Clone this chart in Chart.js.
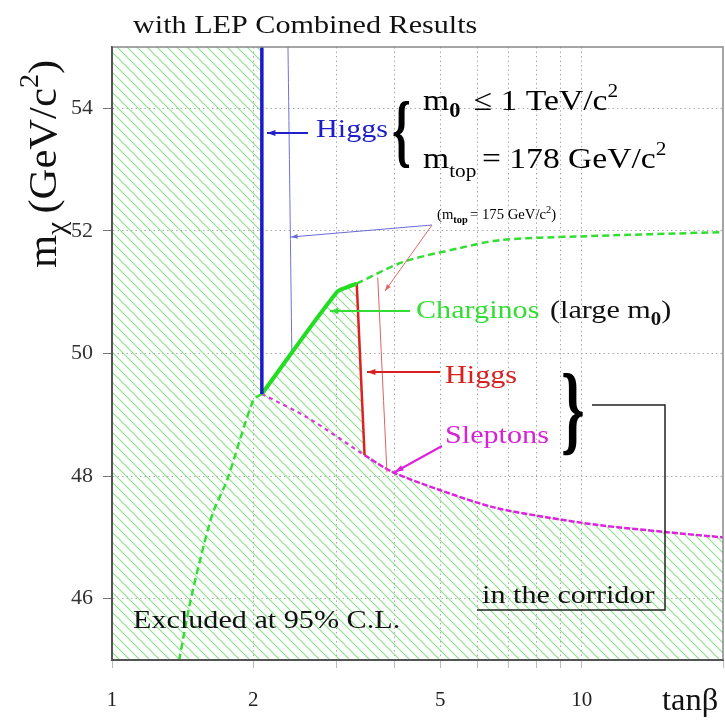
<!DOCTYPE html>
<html>
<head>
<meta charset="utf-8">
<script src="https://cdn.jsdelivr.net/npm/chart.js@4/dist/chart.umd.min.js"></script>
<style>
  html, body { margin: 0; padding: 0; background: #fff; }
  #chart { display: block; }
</style>
</head>
<body>
<canvas id="chart" width="725" height="720"></canvas>
<script>
// tick values
const tanbTicks = [1, 2, 3, 4, 5, 6, 7, 8, 9, 10, 20];
const tanbLabels = { 1: '1', 2: '2', 5: '5', 10: '10' };
const massTicks = [46, 48, 50, 52, 54];

// Higgs limits (m_top = 178 and 175)
const higgs178X = [2.085, 2.085];
const higgs178Y = [55.0, 49.34];
const higgs175X = [2.37, 2.415];
const higgs175Y = [55.0, 50.02];

// chargino limit, solid part and dashed continuations
const charginoX = [2.085, 3.01, 3.16, 3.32];
const charginoY = [49.34, 51.0, 51.08, 51.14];
const charginoHighX = [3.32, 4.16, 5.5, 6.7, 9.9, 20];
const charginoHighY = [51.14, 51.49, 51.72, 51.85, 51.91, 51.98];
const charginoLowX = [2.085, 2.0, 1.757, 1.64, 1.54, 1.466, 1.39];
const charginoLowY = [49.34, 49.24, 47.93, 47.40, 46.63, 45.93, 45.0];

// red Higgs limit in the corridor
const higgsRed178X = [3.32, 3.45];
const higgsRed178Y = [51.14, 48.34];
const higgsRed175X = [3.68, 3.85];
const higgsRed175Y = [51.24, 48.06];

// slepton limit
const sleptonLowX = [2.085, 2.60, 3.45];
const sleptonLowY = [49.34, 48.96, 48.34];
const sleptonX = [3.45, 3.95, 5.0, 6.5, 8.4, 10.9, 15, 20];
const sleptonY = [48.34, 48.07, 47.77, 47.49, 47.33, 47.2, 47.09, 47.0];

const pts = (xs, ys) => xs.map((x, i) => ({ x: x, y: ys[i] }));

// excluded region outline
const excluded = [{ x: 1, y: 55 }, { x: higgs178X[0], y: 55 }]
  .concat(pts(charginoX, charginoY))
  .concat(pts(higgsRed178X, higgsRed178Y).slice(1))
  .concat(pts(sleptonX, sleptonY).slice(1));

// diagonal hatch pattern
function hatch() {
  const s = 10;
  const c = document.createElement('canvas');
  c.width = s; c.height = s;
  const g = c.getContext('2d');
  g.strokeStyle = '#8ae28a';
  g.lineWidth = 1.1;
  g.beginPath();
  g.moveTo(0, 0); g.lineTo(s, s);
  g.moveTo(-2, s - 2); g.lineTo(2, s + 2);
  g.moveTo(s - 2, -2); g.lineTo(s + 2, 2);
  g.stroke();
  return g.createPattern(c, 'repeat');
}

const SERIF = '"Liberation Serif", "DejaVu Serif", serif';
const STRETCH = 1.16;

function rich(ctx, x, y, parts, color, sx) {
  ctx.save();
  ctx.translate(x, y);
  ctx.scale(sx || STRETCH, 1);
  ctx.fillStyle = color;
  ctx.textBaseline = 'alphabetic';
  ctx.textAlign = 'left';
  let cx = 0;
  parts.forEach(p => {
    ctx.font = (p.bold ? 'bold ' : '') + p.size + 'px ' + SERIF;
    ctx.fillText(p.t, cx, p.dy || 0);
    cx += ctx.measureText(p.t).width + (p.gap || 0);
  });
  ctx.restore();
}

function arrow(ctx, x1, y1, x2, y2, color, w, head) {
  ctx.strokeStyle = color;
  ctx.fillStyle = color;
  ctx.lineWidth = w;
  ctx.setLineDash([]);
  ctx.beginPath();
  ctx.moveTo(x1, y1);
  ctx.lineTo(x2, y2);
  ctx.stroke();
  const a = Math.atan2(y2 - y1, x2 - x1);
  const h = head || 9;
  ctx.beginPath();
  ctx.moveTo(x2, y2);
  ctx.lineTo(x2 - h * Math.cos(a - 0.35), y2 - h * Math.sin(a - 0.35));
  ctx.lineTo(x2 - h * Math.cos(a + 0.35), y2 - h * Math.sin(a + 0.35));
  ctx.closePath();
  ctx.fill();
}

const decor = {
  id: 'decor',
  afterDraw(chart) {
    const ctx = chart.ctx;
    const a = chart.chartArea;
    ctx.save();
    ctx.setLineDash([]);
    // frame
    ctx.strokeStyle = '#888';
    ctx.lineWidth = 1.5;
    ctx.beginPath();
    ctx.moveTo(a.left, a.top);
    ctx.lineTo(a.right, a.top);
    ctx.lineTo(a.right, a.bottom);
    ctx.stroke();
    ctx.strokeStyle = '#555';
    ctx.lineWidth = 2;
    ctx.beginPath();
    ctx.moveTo(a.left, a.top);
    ctx.lineTo(a.left, a.bottom);
    ctx.lineTo(a.right, a.bottom);
    ctx.stroke();

    // title
    rich(ctx, 133, 33, [{ t: 'with LEP Combined Results', size: 26 }], '#111');

    // y axis title
    ctx.save();
    ctx.translate(56, 268);
    ctx.rotate(-Math.PI / 2);
    rich(ctx, 0, 0, [
      { t: 'm', size: 41 },
      { t: 'χ', size: 28, dy: 9, gap: 8 },
      { t: '(GeV/c', size: 41 },
      { t: '2', size: 27, dy: -18 },
      { t: ')', size: 41 }
    ], '#111', 1.04);
    ctx.restore();

    // x axis title
    rich(ctx, 662, 710, [{ t: 'tanβ', size: 31 }], '#111', 1.05);

    // blue Higgs
    arrow(ctx, 308, 133, 267, 133, '#2222cc', 2);
    rich(ctx, 316, 137, [{ t: 'Higgs', size: 26 }], '#1c1cc8');

    // condition brace and text
    rich(ctx, 392, 157, [{ t: '{', size: 80, bold: true }], '#000', 0.6);
    rich(ctx, 423, 110, [
      { t: 'm', size: 30 },
      { t: '0', size: 20, dy: 7, bold: true, gap: 12 },
      { t: '≤ 1 TeV/c', size: 30 },
      { t: '2', size: 19, dy: -13 }
    ], '#000', 1.12);
    rich(ctx, 423, 168, [
      { t: 'm', size: 30 },
      { t: 'top', size: 19, dy: 9, gap: 5 },
      { t: '= 178 GeV/c', size: 30 },
      { t: '2', size: 19, dy: -13 }
    ], '#000', 1.12);
    rich(ctx, 437, 219, [
      { t: '(m', size: 14 },
      { t: 'top', size: 10, dy: 4, bold: true, gap: 2 },
      { t: '= 175 GeV/c', size: 14 },
      { t: '2', size: 10, dy: -6 },
      { t: ')', size: 14 }
    ], '#000', 1.05);
    // thin arrows for m_top = 175
    arrow(ctx, 432, 225, 291, 237, '#6a6ad8', 1, 7);
    arrow(ctx, 432, 225, 385, 291, '#e06868', 1, 7);

    // charginos
    arrow(ctx, 410, 311, 330, 311, '#33dd33', 2);
    rich(ctx, 416, 318, [{ t: 'Charginos', size: 26 }], '#33dd33');
    rich(ctx, 550, 318, [
      { t: '(large m', size: 26 },
      { t: '0', size: 18, dy: 7, bold: true },
      { t: ')', size: 26 }
    ], '#111');

    // red Higgs
    arrow(ctx, 440, 372, 367, 372, '#d82020', 2);
    rich(ctx, 445, 383, [{ t: 'Higgs', size: 26 }], '#d82020');

    // sleptons
    arrow(ctx, 442, 446, 395, 472, '#dd22dd', 2);
    rich(ctx, 445, 443, [{ t: 'Sleptons', size: 26 }], '#d424d4');

    // corridor brace and bracket
    rich(ctx, 561, 442, [{ t: '}', size: 100, bold: true }], '#000', 0.6);
    ctx.strokeStyle = '#222';
    ctx.lineWidth = 1.5;
    ctx.beginPath();
    ctx.moveTo(592, 405);
    ctx.lineTo(665, 405);
    ctx.lineTo(665, 610);
    ctx.lineTo(477, 610);
    ctx.stroke();
    rich(ctx, 482, 603, [{ t: 'in the corridor', size: 26 }], '#111');

    rich(ctx, 133, 628, [{ t: 'Excluded at 95% C.L.', size: 26 }], '#111');
    ctx.restore();
  }
};

const line = (data, color, width, dash, order) => ({
  data: data,
  borderColor: color,
  borderWidth: width,
  borderDash: dash || [],
  pointRadius: 0,
  fill: false,
  tension: 0.3,
  order: order
});

new Chart(document.getElementById('chart'), {
  type: 'line',
  data: {
    datasets: [
      {
        data: excluded,
        borderWidth: 0,
        borderColor: 'rgba(0,0,0,0)',
        backgroundColor: hatch(),
        pointRadius: 0,
        fill: 'start',
        tension: 0,
        order: 20
      },
      line(pts(charginoHighX, charginoHighY), '#33dd33', 2.5, [7, 4], 9),
      line(pts(charginoLowX, charginoLowY), '#33dd33', 2.5, [7, 4], 9),
      line(pts(sleptonLowX, sleptonLowY), '#dd33dd', 2.2, [4, 4], 8),
      line(pts(sleptonX, sleptonY), '#dd22dd', 2.5, [6, 2], 7),
      line(pts(higgs175X, higgs175Y), '#7070dd', 1, null, 6),
      line(pts(higgsRed175X, higgsRed175Y), '#e06060', 1, null, 6),
      line(pts(higgsRed178X, higgsRed178Y), '#dd2020', 2.5, null, 5),
      line(pts(charginoX, charginoY), '#22dd22', 4, null, 4),
      line(pts(higgs178X, higgs178Y), '#1a1acc', 3.5, null, 3)
    ]
  },
  options: {
    responsive: false,
    animation: false,
    events: [],
    layout: { padding: { top: 47, right: 2, left: 0, bottom: 0 } },
    plugins: {
      legend: { display: false },
      title: { display: false },
      tooltip: { enabled: false }
    },
    scales: {
      x: {
        type: 'logarithmic',
        min: 1,
        max: 20,
        afterBuildTicks: s => { s.ticks = tanbTicks.map(v => ({ value: v })); },
        afterFit: s => { s.height = 60; s.paddingLeft = 0; s.paddingRight = 0; },
        ticks: {
          autoSkip: false,
          maxRotation: 0,
          padding: 20,
          color: '#222',
          font: { family: SERIF, size: 21 },
          callback: v => tanbLabels[v] || ''
        },
        grid: {
          color: c => (c.tick && (c.tick.value === 1 || c.tick.value === 20)) ? 'rgba(0,0,0,0)' : '#aaa',
          tickColor: '#bbb',
          tickLength: 8,
          tickBorderDash: []
        },
        border: { color: '#555', width: 2, dash: [1.5, 3] }
      },
      y: {
        min: 45,
        max: 55,
        afterBuildTicks: s => { s.ticks = massTicks.map(v => ({ value: v })); },
        afterFit: s => { s.width = 112; s.paddingTop = 0; s.paddingBottom = 0; },
        ticks: {
          padding: 10,
          color: '#333',
          font: { family: SERIF, size: 22 }
        },
        grid: {
          color: '#aaa',
          tickColor: '#777',
          tickLength: 9,
          tickBorderDash: []
        },
        border: { color: '#555', width: 2, dash: [1.5, 3] }
      }
    }
  },
  plugins: [decor]
});
</script>
</body>
</html>
